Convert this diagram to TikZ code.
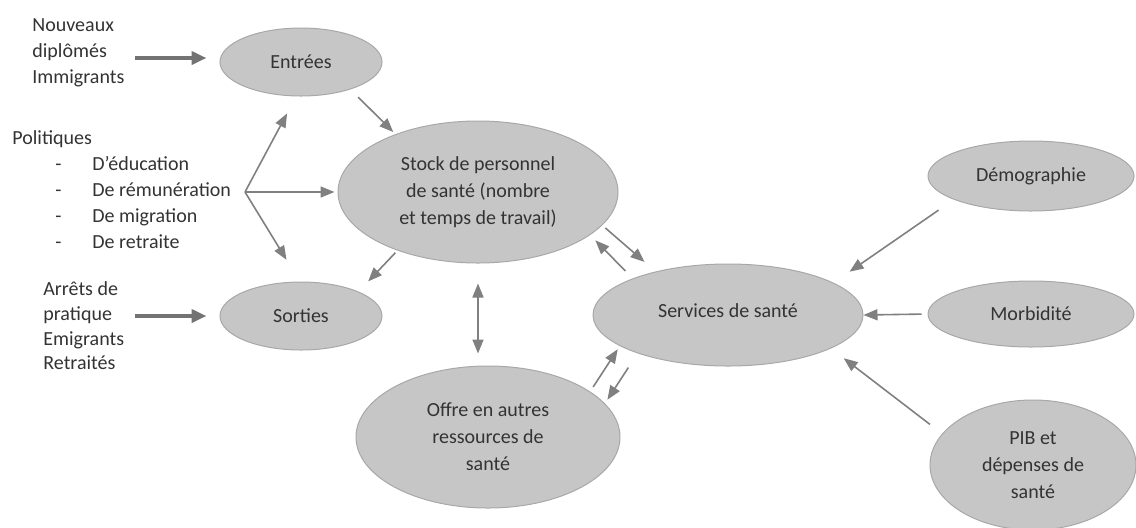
\documentclass[tikz,border=0pt]{standalone}
\usepackage{fontspec}
\setmainfont{Carlito}
\usetikzlibrary{shapes.geometric,arrows.meta}
\definecolor{bubblegray}{HTML}{C6C6C6}
\definecolor{bubbleline}{HTML}{A8A8A8}
\definecolor{arrowgray}{HTML}{808080}
\definecolor{textgray}{HTML}{333333}
\tikzset{
  >={Triangle[length=7pt,width=5.5pt]},
  bubble/.style={ellipse,fill=bubblegray,draw=bubbleline,line width=0.5pt,inner sep=0pt,align=center,text=textgray,font=\fontsize{10}{13.5}\selectfont},
  txt/.style={anchor=west,inner sep=0pt,align=left,text=textgray,font=\fontsize{10}{13}\selectfont},
  link/.style={->,draw=arrowgray,line width=0.8pt},
  biglink/.style={-{Triangle[length=7.5pt,width=6.5pt]},draw=black!55,line width=2pt}
}

\begin{document}
\begin{tikzpicture}[x=0.5pt,y=-0.5pt]
\useasboundingbox (0,0) rectangle (1136,527);
% bubbles
\node[bubble,minimum width=81pt,minimum height=34pt] (entrees) at (301,62) {Entrées};
\node[bubble,minimum width=81pt,minimum height=34pt] (sorties) at (301,316) {Sorties};
\node[bubble,minimum width=140pt,minimum height=71pt] (stock) at (478,192) {Stock de personnel\\de santé (nombre\\et temps de travail)};
\node[bubble,minimum width=132pt,minimum height=71pt] (offre) at (488,437) {Offre en autres\\ressources de\\santé};
\node[bubble,minimum width=135pt,minimum height=51pt] (services) at (728,315) {\raisebox{4pt}{Services de santé}};
\node[bubble,minimum width=103pt,minimum height=35pt] (demo) at (1031,176) {Démographie};
\node[bubble,minimum width=103pt,minimum height=33pt] (morb) at (1031,314) {Morbidité};
\node[bubble,minimum width=103pt,minimum height=65pt] (pib) at (1033,465) {PIB et\\dépenses de\\santé};
% texts on the left
\node[txt] (nouv) at (32,53) {Nouveaux\\diplômés\\Immigrants};
\node[txt] (pol) at (12,190) {Politiques\\
  \hspace*{21.5pt}\makebox[18.5pt][l]{-}D’éducation\\
  \hspace*{21.5pt}\makebox[18.5pt][l]{-}De rémunération\\
  \hspace*{21.5pt}\makebox[18.5pt][l]{-}De migration\\
  \hspace*{21.5pt}\makebox[18.5pt][l]{-}De retraite};
\node[txt,font=\fontsize{10}{12.3}\selectfont] (arrets) at (43,326) {Arrêts de\\pratique\\Emigrants\\Retraités};
\coordinate (fork) at (245,192);
% arrows
\draw[biglink,shorten <=5.2pt,shorten >=6.5pt] ([yshift=-2.5pt]nouv.east) -- ([yshift=-2.5pt]nouv.east -| entrees.west);
\draw[biglink,shorten <=5.3pt,shorten >=6.5pt] (arrets.east |- sorties.west) -- (sorties.west);
\draw[link,shorten >=9.6pt] (fork) -- (entrees.-98);
\draw[link,shorten >=1.5pt] (fork) -- (stock.west);
\draw[link,shorten >=12.7pt] (fork) -- (sorties.92);
\draw[link,shorten <=5.5pt,shorten >=1.5pt] (entrees.-29) -- (stock.145);
\draw[link,shorten <=1.5pt,shorten >=7pt] (stock.-144) -- (sorties.23);
\draw[link,<->,shorten <=10pt,shorten >=6pt] (stock.south) -- (stock.south |- offre.north);
\draw[link,shorten <=2pt,shorten >=7.3pt] (stock.-15) -- (services.149);
\draw[link,shorten <=5.2pt,shorten >=3.7pt] (services.159) -- (stock.-21);
\draw[link,shorten <=2.7pt,shorten >=1.9pt] (offre.24) -- (services.-164);
\draw[link,shorten <=8.5pt,shorten >=2.2pt] (services.-157) -- (offre.16);
\draw[link,shorten <=9.2pt,shorten >=9.7pt] (demo.-163) -- (services.17);
\draw[link,shorten <=3pt] (morb.west) -- (services.east);
\draw[link,shorten <=7.7pt,shorten >=8pt] (pib.161) -- (services.-18);
\end{tikzpicture}
\end{document}
